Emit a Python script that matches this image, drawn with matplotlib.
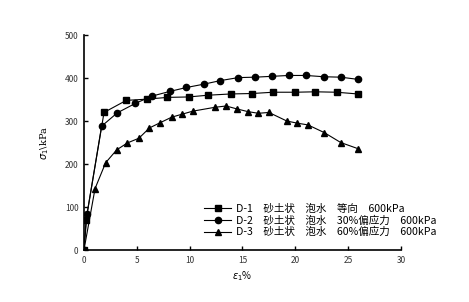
import matplotlib
matplotlib.use("Agg")
import matplotlib.pyplot as plt

plt.rcParams['font.family'] = ['Noto Sans CJK SC', 'DejaVu Sans']

# D-1: square markers
d1_x = [0, 0.2, 1.9, 4.0, 6.0, 7.9, 9.9, 11.7, 13.9, 15.9, 17.9, 20.0, 21.9, 23.9, 25.9]
d1_y = [0, 70, 320, 348, 351, 355, 356, 360, 363, 364, 367, 367, 368, 367, 363]

# D-2: circle markers
d2_x = [0, 0.3, 1.67, 3.15, 4.86, 6.44, 8.14, 9.7, 11.4, 12.9, 14.6, 16.2, 17.8, 19.4,
        21.0, 22.7, 24.3, 25.9]
d2_y = [0, 85, 288, 319, 341, 358, 369, 378, 386, 394, 401, 402, 404, 406,
        406, 403, 402, 397]

# D-3: triangle markers
d3_x = [0, 1.05, 2.05, 3.1, 4.1, 5.2, 6.2, 7.2, 8.3, 9.3, 10.3, 12.4, 13.45, 14.5,
        15.5, 16.5, 17.5, 19.2, 20.2, 21.2, 22.75, 24.3, 25.9]
d3_y = [0, 143, 203, 233, 249, 260, 284, 296, 309, 316, 323, 332, 335, 328,
        322, 318, 320, 300, 295, 291, 273, 250, 236]

# wide gaps between words, as in the original legend
gap = '\u3000'
labels = [gap.join(['D-1', '砂土状', '泡水', '等向', '600kPa']),
          gap.join(['D-2', '砂土状', '泡水', '30%偏应力', '600kPa']),
          gap.join(['D-3', '砂土状', '泡水', '60%偏应力', '600kPa'])]

fig = plt.figure(figsize=(4.69, 3.02), dpi=100)
ax = fig.add_axes([0.179, 0.172, 0.676, 0.712])

ax.plot(d1_x, d1_y, color='black', lw=0.8, marker='s', ms=4.5, label=labels[0])
ax.plot(d2_x, d2_y, color='black', lw=0.8, marker='o', ms=4.5, label=labels[1])
ax.plot(d3_x, d3_y, color='black', lw=0.8, marker='^', ms=5, label=labels[2])

ax.set_xlim(0, 30)
ax.set_ylim(0, 500)
ax.set_xticks(range(0, 31, 5))
ax.set_yticks(range(0, 501, 100))
ax.spines['top'].set_visible(False)
ax.spines['right'].set_visible(False)
ax.spines['left'].set_linewidth(1.2)
ax.spines['bottom'].set_linewidth(1.2)
ax.tick_params(direction='in', length=3, width=1, labelsize=6, colors='black', pad=4)
for lbl in ax.get_xticklabels() + ax.get_yticklabels():
    lbl.set_color('#333333')

ax.set_xlabel(r'$\varepsilon_1$%', fontsize=7, labelpad=3)
ax.set_ylabel(r'$\sigma_1$\kPa', fontsize=7, labelpad=10, family='DejaVu Serif')

ax.legend(loc='lower left', bbox_to_anchor=(0.365, 0.04), frameon=False,
          prop={'family': 'Noto Sans CJK SC', 'size': 7.6},
          handlelength=2.6, handletextpad=0.4, labelspacing=0.12,
          borderaxespad=0)

fig.savefig('out.png', dpi=100)
